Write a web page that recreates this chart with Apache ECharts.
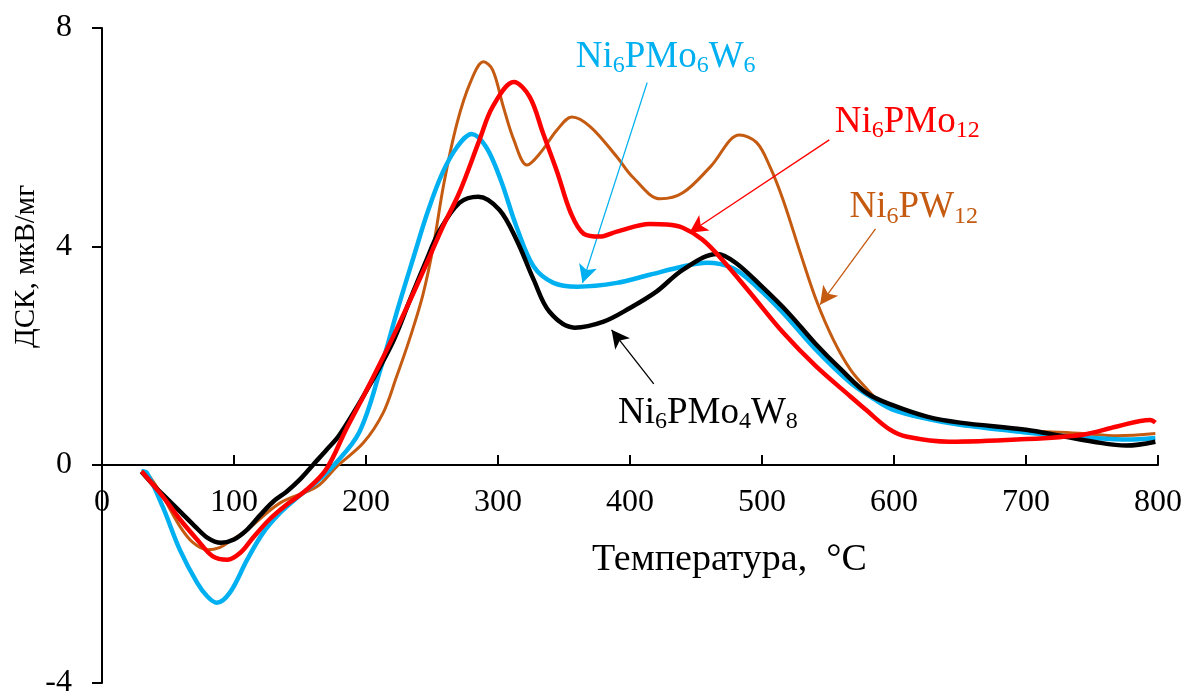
<!DOCTYPE html>
<html><head><meta charset="utf-8">
<script src="https://cdn.jsdelivr.net/npm/echarts@6/dist/echarts.min.js"></script>
<style>html,body{margin:0;padding:0;background:#fff}#c{width:1188px;height:693px}</style>
</head><body><div id="c"></div>
<script>
// ---- data (temperature °C, DSC µV/mg) ----
const seriesNames = ['Ni6PMo4W8', 'Ni6PMo6W6', 'Ni6PMo12', 'Ni6PW12'];
const xTicks = [0, 100, 200, 300, 400, 500, 600, 700, 800];
const yTicks = [-4, 0, 4, 8];

const dataMo4W8 = [[30,-0.13],[40,-0.40],[50,-0.64],[60,-0.88],[70,-1.12],[80,-1.34],[90,-1.43],[100,-1.37],[110,-1.19],[120,-0.92],[130,-0.67],[140,-0.49],[150,-0.27],[160,0],[170,0.27],[180,0.55],[200,1.34],[220,2.23],[233,3.0],[245,3.7],[256,4.3],[271,4.8],[285,4.91],[301,4.67],[314,4.12],[327,3.39],[339,2.8],[358,2.51],[380,2.62],[400,2.87],[420,3.17],[440,3.57],[466,3.86],[480,3.7],[500,3.26],[520,2.78],[540,2.23],[560,1.74],[580,1.3],[600,1.08],[625,0.88],[650,0.77],[700,0.64],[726,0.53],[751,0.42],[776,0.35],[798,0.42]];

const dataMo6W6 = [[30,-0.12],[34,-0.15],[46,-0.77],[59,-1.56],[72,-2.16],[80,-2.42],[87,-2.53],[97,-2.34],[110,-1.74],[122,-1.25],[135,-0.88],[148,-0.6],[160,-0.37],[176,0],[195,0.6],[211,1.75],[224,2.85],[236,3.8],[247,4.65],[258,5.35],[269,5.82],[280,6.06],[291,5.82],[302,5.22],[314,4.36],[327,3.63],[342,3.33],[360,3.26],[390,3.33],[415,3.48],[440,3.63],[458,3.7],[478,3.6],[496,3.26],[516,2.78],[541,2.1],[567,1.5],[585,1.2],[600,1.0],[625,0.84],[650,0.73],[700,0.59],[726,0.53],[751,0.49],[776,0.46],[798,0.49]];

const dataMo12 = [[30,-0.12],[46,-0.58],[59,-1.0],[72,-1.37],[84,-1.68],[95,-1.74],[105,-1.61],[115,-1.32],[127,-1.0],[140,-0.73],[155,-0.46],[170,-0.08],[185,0.65],[198,1.25],[211,1.87],[223,2.47],[236,3.15],[248,3.8],[258,4.35],[271,5.0],[286,5.95],[296,6.56],[312,7.01],[324,6.74],[334,6.08],[345,5.35],[355,4.62],[365,4.23],[377,4.18],[390,4.27],[415,4.41],[428,4.4],[440,4.34],[455,4.12],[470,3.75],[491,3.15],[516,2.42],[541,1.8],[567,1.25],[579,1.0],[597,0.64],[610,0.51],[642,0.42],[693,0.46],[743,0.55],[769,0.7],[794,0.82],[798,0.77]];

const dataPW12 = [[30,-0.12],[34,-0.15],[46,-0.58],[59,-1.13],[69,-1.43],[80,-1.56],[89,-1.52],[97,-1.4],[110,-1.19],[135,-0.7],[163,-0.4],[178,-0.03],[198,0.4],[213,0.95],[223,1.6],[233,2.3],[243,3.1],[251,4.0],[259,5.15],[269,6.26],[279,7.0],[289,7.38],[296,7.23],[304,6.56],[312,5.95],[322,5.49],[332,5.71],[345,6.14],[356,6.37],[370,6.19],[390,5.64],[402,5.27],[423,4.87],[440,4.98],[461,5.46],[483,6.04],[496,5.9],[506,5.46],[516,4.85],[529,3.88],[541,3.02],[554,2.29],[567,1.74],[579,1.4],[592,1.1],[617,0.92],[642,0.79],[693,0.64],[743,0.57],[769,0.53],[798,0.57]];

// annotation anchors in data coordinates
const labelPos  = [[459,0.95],[427,7.47],[610,6.28],[615,4.71]];
const arrowFrom = [[418,1.48],[413,7.0],[551,5.95],[586,4.32]];
const arrowTo   = [[386,2.47],[364,3.33],[445,4.25],[544,2.93]];
const labelRich = [
  '{b|Ni}{s|6}{b|PMo}{s|4}{b|W}{s|8}',
  '{b|Ni}{s|6}{b|PMo}{s|6}{b|W}{s|6}',
  '{b|Ni}{s|6}{b|PMo}{s|12}',
  '{b|Ni}{s|6}{b|PW}{s|12}'
];

const colors = ['#000000', '#00B0F0', '#FF0000', '#C55A11'];
const widths = [4.5, 4.5, 4.5, 3];
const allData = [dataMo4W8, dataMo6W6, dataMo12, dataPW12];
const FONT = '"Liberation Serif", "Times New Roman", serif';

const chart = echarts.init(document.getElementById('c'), null, {renderer: 'canvas'});
const series = allData.map((d, i) => ({
  name: seriesNames[i],
  type: 'line',
  data: d,
  smooth: 0.35,
  showSymbol: false,
  symbol: 'none',
  lineStyle: {color: colors[i], width: widths[i]},
  itemStyle: {color: colors[i]},
  z: [4, 3, 5, 2][i],
  markLine: {
    silent: true,
    symbol: ['none', 'arrow'],
    symbolSize: [14, 18],
    lineStyle: {color: colors[i], width: 1.3, type: 'solid'},
    label: {show: false},
    data: [[{coord: arrowFrom[i]}, {coord: arrowTo[i]}]]
  },
  markPoint: {
    silent: true,
    symbol: 'circle',
    symbolSize: 0,
    data: [{coord: labelPos[i]}],
    label: {
      show: true,
      position: 'inside',
      formatter: labelRich[i],
      rich: {
        b: {fontFamily: FONT, fontSize: 37, color: colors[i], lineHeight: 42},
        s: {fontFamily: FONT, fontSize: 24, color: colors[i], lineHeight: 24, verticalAlign: 'bottom'}
      }
    }
  }
}));

chart.setOption({
  animation: false,
  backgroundColor: '#fff',
  grid: {left: 102, right: 30, top: 28, bottom: 10, containLabel: false, outerBoundsMode: 'none'},
  xAxis: {
    type: 'value', min: xTicks[0], max: xTicks[xTicks.length - 1], interval: 100,
    position: 'bottom',
    offset: -218,
    axisLine: {onZero: false, lineStyle: {color: '#000', width: 2}},
    axisTick: {show: true, inside: true, length: 10, lineStyle: {color: '#000', width: 2}},
    axisLabel: {fontFamily: FONT, fontSize: 32, color: '#000', margin: 22},
    splitLine: {show: false}
  },
  yAxis: {
    type: 'value', min: yTicks[0], max: yTicks[yTicks.length - 1], interval: 4,
    axisLine: {onZero: false, lineStyle: {color: '#000', width: 2}},
    axisTick: {show: true, inside: false, length: 10, lineStyle: {color: '#000', width: 2}},
    axisLabel: {fontFamily: FONT, fontSize: 32, color: '#000', margin: 30},
    splitLine: {show: false}
  },
  graphic: [
    {type: 'text', left: 592, top: 541,
     style: {text: 'Температура,  °C', font: '38px ' + FONT, fill: '#000'}},
    {type: 'text', x: 12, y: 348, rotation: Math.PI / 2,
     style: {text: 'ДСК, мкВ/мг', font: '29px ' + FONT, fill: '#000', textAlign: 'left', textVerticalAlign: 'top'}}
  ],
  series: series
});
</script>
</body></html>
